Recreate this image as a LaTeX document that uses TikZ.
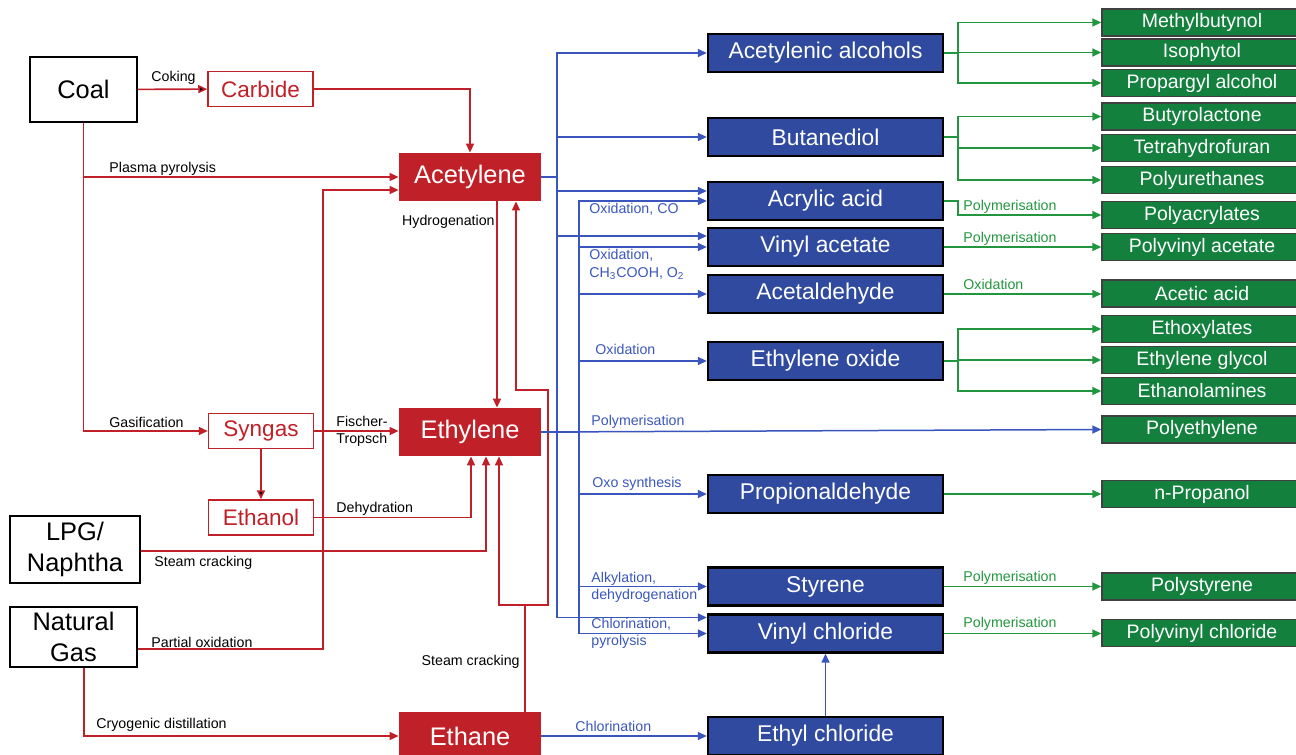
\documentclass[tikz,border=0pt]{standalone}
\usepackage{fontspec}
\setmainfont{Liberation Sans}
\usetikzlibrary{arrows.meta}

\definecolor{chemred}{RGB}{192,32,40}
\definecolor{chemblue}{RGB}{47,74,158}
\definecolor{chemline}{RGB}{58,86,190}
\definecolor{chemgreen}{RGB}{19,128,62}
\definecolor{chemgline}{RGB}{34,150,62}

\begin{document}
\begin{tikzpicture}[x=0.5pt, y=-0.5pt,
    feed/.style={draw=black, line width=1pt, fill=white, inner sep=0pt, align=center, font=\fontsize{12.7}{15.5}\selectfont},
    mid/.style={draw=chemred, line width=0.75pt, fill=white, text=chemred, inner sep=0pt, minimum width=52.5pt, minimum height=17.5pt, font=\fontsize{11.25}{13}\selectfont},
    hub/.style={fill=chemred, text=white, inner sep=0pt, minimum width=71pt, minimum height=24pt, font=\fontsize{12.7}{15}\selectfont},
    deriv/.style={fill=chemblue, draw=black, line width=1.2pt, text=white, inner sep=0pt, minimum width=117.5pt, minimum height=19pt, font=\fontsize{11.4}{13}\selectfont},
    prod/.style={fill=chemgreen, draw=black!75, line width=0.7pt, text=white, inner sep=0pt, minimum width=100pt, minimum height=13.5pt, font=\fontsize{9.75}{11}\selectfont},
    lbl/.style={inner sep=0pt, align=left, font=\fontsize{7.1}{8.6}\selectfont},
    redline/.style={draw=chemred, line width=0.8pt, -{Triangle[length=4.5pt, width=4pt]}},
    blueline/.style={draw=chemline, line width=0.75pt, -{Triangle[length=4.5pt, width=4pt]}},
    greenline/.style={draw=chemgline, line width=0.75pt, -{Triangle[length=4.5pt, width=4pt]}}]
    \path[clip, use as bounding box] (0,0) rectangle (1296,755);

    % feedstocks
    \node[feed, minimum width=53.5pt, minimum height=32.5pt] (coal) at (83.5,89.5) {Coal};
    \node[feed, minimum width=65pt, minimum height=33.5pt] (lpg) at (75,549.5) {LPG/\\Naphtha};
    \node[feed, minimum width=63.5pt, minimum height=30pt] (natgas) at (73.5,637) {Natural\\Gas};

    % intermediates
    \node[mid] (carbide) at (260.5,89) {Carbide};
    \node[mid] (syngas) at (261,431) {Syngas};
    \node[mid] (ethanol) at (261,517.5) {Ethanol};
    \node[hub] (acetylene) at (470,177) {Acetylene};
    \node[hub] (ethylene) at (470,432) {Ethylene};
    \node[hub] (ethane) at (470,736) {Ethane};

    % derivatives
    \node[deriv] (acetalc) at (825.5,53) {Acetylenic alcohols};
    \node[deriv] (butanediol) at (825.5,137) {Butanediol};
    \node[deriv] (acrylic) at (825.5,201) {Acrylic acid};
    \node[deriv] (vinylacetate) at (825.5,247) {Vinyl acetate};
    \node[deriv] (acetaldehyde) at (825.5,294) {Acetaldehyde};
    \node[deriv] (ethyleneoxide) at (825.5,361) {Ethylene oxide};
    \node[deriv] (propionaldehyde) at (825.5,494) {Propionaldehyde};
    \node[deriv] (styrene) at (825.5,586.5) {Styrene};
    \node[deriv] (vinylchloride) at (825.5,633.5) {Vinyl chloride};
    \node[deriv] (ethylchloride) at (825.5,736) {Ethyl chloride};

    % end products
    \node[prod] (methylbutynol) at (1202,22.5) {Methylbutynol};
    \node[prod] (isophytol) at (1202,52.5) {Isophytol};
    \node[prod] (propargyl) at (1202,83) {Propargyl alcohol};
    \node[prod] (butyrolactone) at (1202,116.5) {Butyrolactone};
    \node[prod] (thf) at (1202,148) {Tetrahydrofuran};
    \node[prod] (polyurethanes) at (1202,180) {Polyurethanes};
    \node[prod] (polyacrylates) at (1202,215) {Polyacrylates};
    \node[prod] (polyvinylacetate) at (1202,247) {Polyvinyl acetate};
    \node[prod] (aceticacid) at (1202,293.5) {Acetic acid};
    \node[prod] (ethoxylates) at (1202,329) {Ethoxylates};
    \node[prod] (ethyleneglycol) at (1202,360) {Ethylene glycol};
    \node[prod] (ethanolamines) at (1202,391) {Ethanolamines};
    \node[prod] (polyethylene) at (1202,429.5) {Polyethylene};
    \node[prod] (npropanol) at (1202,494) {n-Propanol};
    \node[prod] (polystyrene) at (1202,586.5) {Polystyrene};
    \node[prod] (pvc) at (1202,633) {Polyvinyl chloride};

    % junctions
    \coordinate (pox) at (323,190);
    \coordinate (sc) at (525,605);
    \coordinate (ret) at (548,390);
    \coordinate (ytrunk) at (557,177);
    \coordinate (etrunk) at (579,432);
    \coordinate (gx) at (958,0);

    % red routes
    \path[redline] (coal) edge (carbide);
    \draw[redline] (carbide.east) -| (acetylene.north);
    \draw[redline] (coal.south |- acetylene.west) -- (acetylene.west);
    \draw[redline] (coal.south) |- (syngas.west);
    \draw[redline] ([yshift=-6pt]natgas.east) -| (pox) -- (pox -| acetylene.west);
    \draw[redline] (syngas.east) -- (syngas.east -| ethylene.west);
    \path[redline] (syngas) edge (ethanol);
    \draw[redline] (ethanol.east) -| ([xshift=0.5pt]ethylene.south);
    \draw[redline] ([yshift=-0.75pt]lpg.east) -| ([xshift=8pt]ethylene.south);
    \draw[redline] ([xshift=5.25pt]natgas.south) |- (ethane.west);
    \draw[redline] ([xshift=13.5pt]acetylene.south) -- ([xshift=13.5pt]ethylene.north);
    \draw[chemred, line width=0.8pt] ([xshift=27.5pt]ethane.north) -- (sc);
    \draw[redline] (sc) -| ([xshift=14.5pt]ethylene.south);
    \draw[redline] (sc) -| (ret) -| ([xshift=23pt]acetylene.south);

    % blue routes
    \foreach \dst/\sh in {acetalc/0pt, butanediol/0pt, acrylic/5pt, vinylacetate/5.5pt, vinylchloride/8pt}
        \draw[blueline] (acetylene.east) -- (ytrunk) |- ([yshift=\sh]\dst.west);
    \foreach \dst in {acrylic, vinylacetate, acetaldehyde, ethyleneoxide, propionaldehyde, styrene, vinylchloride}
        \draw[blueline] (ethylene.east) -- (etrunk) |- (\dst.west);
    \draw[blueline] (ethylene.east) -- (polyethylene.west);
    \draw[blueline] (ethane.east) -- (ethane.east -| ethylchloride.west);
    \draw[blueline] (ethylchloride.north) -- (vinylchloride.south);

    % green routes
    \foreach \src/\dst in {acetalc/methylbutynol, acetalc/isophytol, acetalc/propargyl, butanediol/butyrolactone, butanediol/thf, butanediol/polyurethanes, acrylic/polyacrylates, ethyleneoxide/ethoxylates, ethyleneoxide/ethyleneglycol, ethyleneoxide/ethanolamines}
        \draw[greenline] (\src.east) -- (\src.east -| gx) |- (\dst.west);
    \foreach \src/\dst in {vinylacetate/polyvinylacetate, acetaldehyde/aceticacid, propionaldehyde/npropanol, styrene/polystyrene, vinylchloride/pvc}
        \draw[greenline] (\src.east) -- (\src.east -| \dst.west);

    % route labels
    \node[lbl, anchor=west] (lcoking) at (151,78) {Coking};
    \node[lbl, anchor=west] (lplasma) at (109,169) {Plasma pyrolysis};
    \node[lbl, anchor=east] (lhydro) at (495,222) {Hydrogenation};
    \node[lbl, anchor=west] (lgasif) at (109,422) {Gasification};
    \node[lbl, anchor=west] (lfischer) at (336,431.5) {Fischer-\\Tropsch};
    \node[lbl, anchor=west] (ldehyd) at (336,509) {Dehydration};
    \node[lbl, anchor=west] (lsteamA) at (154,563) {Steam cracking};
    \node[lbl, anchor=west] (lpartial) at (151,642) {Partial oxidation};
    \node[lbl, anchor=west] (lcryo) at (96,725) {Cryogenic distillation};
    \node[lbl, anchor=east] (lsteamB) at (520,662) {Steam cracking};

    \node[lbl, anchor=west, text=chemline] (loxco) at (589,209) {Oxidation, CO};
    \node[lbl, anchor=west, text=chemline] (loxac) at (589,264.5) {Oxidation,\\CH\textsubscript{3}COOH, O\textsubscript{2}};
    \node[lbl, anchor=west, text=chemline] (loxeo) at (595,349) {Oxidation};
    \node[lbl, anchor=west, text=chemline] (lpolye) at (591,422) {Polymerisation};
    \node[lbl, anchor=west, text=chemline] (loxo) at (592,484) {Oxo synthesis};
    \node[lbl, anchor=west, text=chemline] (lalkyl) at (591,587) {Alkylation,\\dehydrogenation};
    \node[lbl, anchor=west, text=chemline] (lchlorA) at (591,633.5) {Chlorination,\\pyrolysis};
    \node[lbl, anchor=west, text=chemline] (lchlorB) at (575,726) {Chlorination};

    \node[lbl, anchor=west, text=chemgline] (lpolyA) at (963,207) {Polymerisation};
    \node[lbl, anchor=west, text=chemgline] (lpolyB) at (963,239) {Polymerisation};
    \node[lbl, anchor=west, text=chemgline] (loxaa) at (963,284) {Oxidation};
    \node[lbl, anchor=west, text=chemgline] (lpolyC) at (963,578) {Polymerisation};
    \node[lbl, anchor=west, text=chemgline] (lpolyD) at (963,624) {Polymerisation};
\end{tikzpicture}
\end{document}
